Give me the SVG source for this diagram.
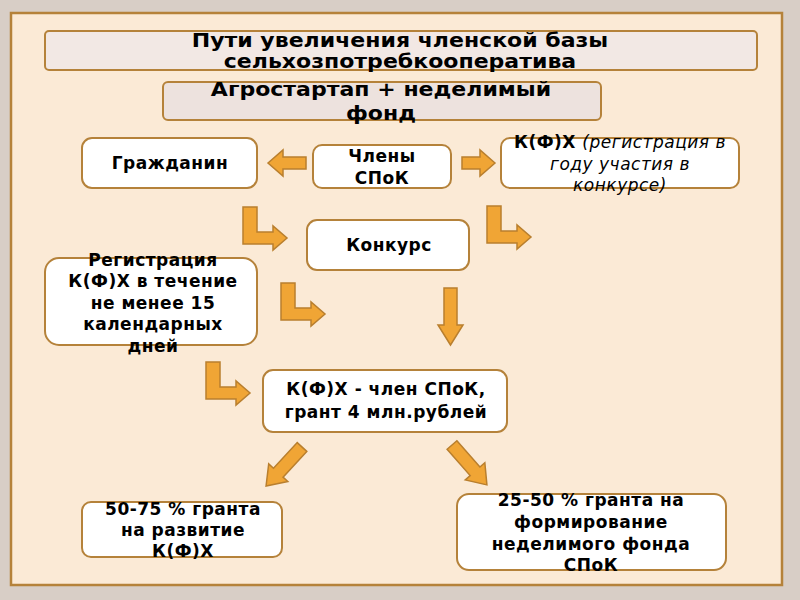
<svg xmlns="http://www.w3.org/2000/svg" width="800" height="600" viewBox="0 0 800 600">
<defs>
<style>
.bg{fill:#d8cec6}
.panel{fill:#fbead6;stroke:#b5823a;stroke-width:2.5}
.hdr{stroke:#b5823a;stroke-width:2}
.box{fill:#ffffff;stroke:#b5823a;stroke-width:2}
.arr{fill:#f0a535;stroke:#b97f2e;stroke-width:1.5;stroke-linejoin:miter}
.t{font-family:"DejaVu Sans",sans-serif;font-weight:bold;font-size:19.5px;fill:#000;text-anchor:middle}
.n{font-family:"DejaVu Sans",sans-serif;font-weight:bold;font-size:17px;letter-spacing:0.5px;fill:#000;text-anchor:middle}
.i{font-family:"DejaVu Sans",sans-serif;font-style:italic;font-weight:normal}
</style>
<path id="L" d="M0,0 L14,0 L14,25 L30,25 L30,19 L44,31 L30,43 L30,37 L0,37 Z"/>
<path id="D" d="M0,-6.5 L35,-6.5 L35,-13 L53,0 L35,13 L35,6.5 L0,6.5 Z"/>
</defs>
<rect class="bg" x="0" y="0" width="800" height="600"/>
<rect class="panel" x="11" y="13" width="771" height="572"/>

<g id="title">
<rect class="hdr" x="45" y="31" width="712" height="39" rx="4" fill="#f2e8e4"/>
<text class="t" transform="translate(400,46.5) scale(1.13,1)">Пути увеличения членской базы</text>
<text class="t" transform="translate(400,68) scale(1.13,1)">сельхозпотребкооператива</text>
</g>
<g id="subtitle">
<rect class="hdr" x="163" y="82" width="438" height="38" rx="5" fill="#ede2de"/>
<text class="t" transform="translate(381,96) scale(1.13,1)">Агростартап + неделимый</text>
<text class="t" transform="translate(381,120) scale(1.13,1)">фонд</text>
</g>

<g id="grazhdanin">
<rect class="box" x="82" y="138" width="175" height="50" rx="10"/>
<text class="n" x="170" y="169">Гражданин</text>
</g>
<g id="chleny">
<rect class="box" x="313" y="145" width="138" height="43" rx="9"/>
<text class="n" x="382" y="162">Члены</text>
<text class="n" x="382" y="184">СПоК</text>
</g>
<g id="kfh-reg">
<rect class="box" x="501" y="138" width="238" height="50" rx="9"/>
<text class="n" x="620" y="148">К(Ф)Х <tspan class="i">(регистрация в</tspan></text>
<text class="n i" x="620" y="170">году участия в</text>
<text class="n i" x="620" y="191">конкурсе)</text>
</g>
<g id="konkurs">
<rect class="box" x="307" y="220" width="162" height="50" rx="10"/>
<text class="n" x="389" y="251">Конкурс</text>
</g>
<g id="registraciya">
<rect class="box" x="45" y="258" width="212" height="87" rx="14"/>
<text class="n" x="153" y="266">Регистрация</text>
<text class="n" x="153" y="287">К(Ф)Х в течение</text>
<text class="n" x="153" y="309">не менее 15</text>
<text class="n" x="153" y="330">календарных</text>
<text class="n" x="153" y="352">дней</text>
</g>
<g id="kfh-chlen">
<rect class="box" x="263" y="370" width="244" height="62" rx="10"/>
<text class="n" x="386" y="395">К(Ф)Х - член СПоК,</text>
<text class="n" x="386" y="418">грант 4 млн.рублей</text>
</g>
<g id="grant-50-75">
<rect class="box" x="82" y="502" width="200" height="55" rx="9"/>
<text class="n" x="183" y="515">50-75 % гранта</text>
<text class="n" x="183" y="536">на развитие</text>
<text class="n" x="183" y="557">К(Ф)Х</text>
</g>
<g id="grant-25-50">
<rect class="box" x="457" y="494" width="269" height="76" rx="12"/>
<text class="n" x="591" y="506">25-50 % гранта на</text>
<text class="n" x="591" y="528">формирование</text>
<text class="n" x="591" y="550">неделимого фонда</text>
<text class="n" x="591" y="571">СПоК</text>
</g>

<g id="connectors">
<path class="arr" d="M268,163 L283,150 L283,157 L306,157 L306,169 L283,169 L283,176 Z"/>
<path class="arr" d="M495,163 L480,150 L480,157 L462,157 L462,169 L480,169 L480,176 Z"/>
<use class="arr" href="#L" transform="translate(243,207)"/>
<use class="arr" href="#L" transform="translate(487,206)"/>
<use class="arr" href="#L" transform="translate(281,283)"/>
<use class="arr" href="#L" transform="translate(206,362)"/>
<path class="arr" d="M444,288 L457,288 L457,325 L463,325 L450.5,345 L438,325 L444,325 Z"/>
<use class="arr" href="#D" transform="translate(302,447) rotate(132.7)"/>
<use class="arr" href="#D" transform="translate(452,445) rotate(48.8)"/>
</g>
</svg>
